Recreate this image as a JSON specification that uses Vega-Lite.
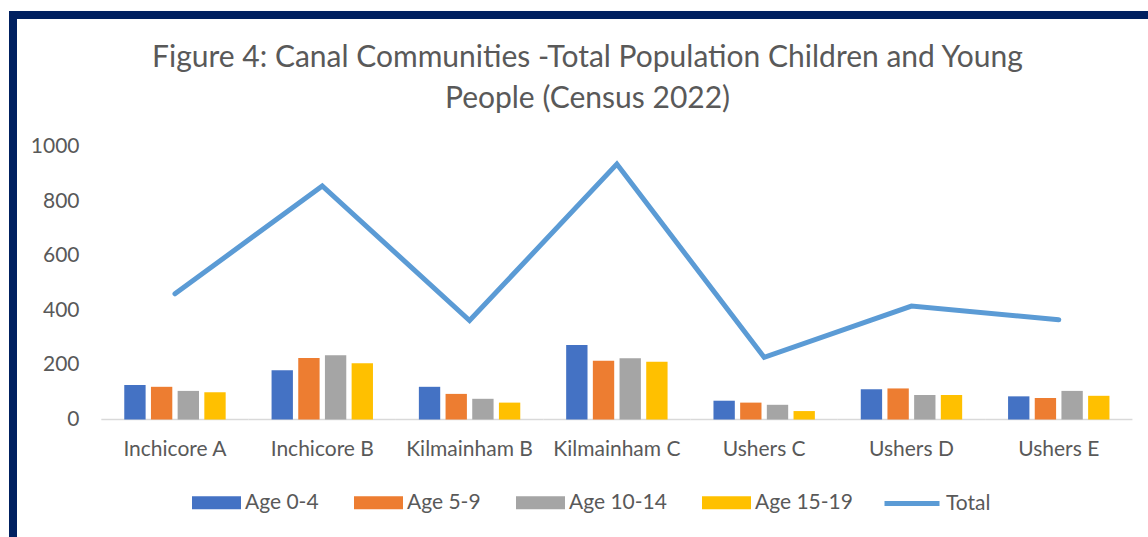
{
  "$schema": "https://vega.github.io/schema/vega-lite/v6.json",
  "width": 1135,
  "height": 522,
  "autosize": {"type": "none"},
  "padding": {"left": 13, "top": 15, "right": 0, "bottom": 0},
  "background": "white",
  "title": {
    "text": ["Figure 4: Canal Communities -Total Population Children and Young", "People (Census 2022)"],
    "orient": "top",
    "anchor": "middle",
    "frame": "group",
    "offset": -99,
    "dx": 7,
    "font": "Lato",
    "fontSize": 30,
    "fontWeight": "normal",
    "color": "#595959",
    "lineHeight": 41,
    "baseline": "top"
  },
  "datasets": {
    "bars": [
      {"community": "Inchicore A", "age": "Age 0-4", "value": 127},
      {"community": "Inchicore A", "age": "Age 5-9", "value": 120},
      {"community": "Inchicore A", "age": "Age 10-14", "value": 105},
      {"community": "Inchicore A", "age": "Age 15-19", "value": 100},
      {"community": "Inchicore B", "age": "Age 0-4", "value": 181},
      {"community": "Inchicore B", "age": "Age 5-9", "value": 226},
      {"community": "Inchicore B", "age": "Age 10-14", "value": 236},
      {"community": "Inchicore B", "age": "Age 15-19", "value": 206},
      {"community": "Kilmainham B", "age": "Age 0-4", "value": 120},
      {"community": "Kilmainham B", "age": "Age 5-9", "value": 94},
      {"community": "Kilmainham B", "age": "Age 10-14", "value": 76},
      {"community": "Kilmainham B", "age": "Age 15-19", "value": 62},
      {"community": "Kilmainham C", "age": "Age 0-4", "value": 273},
      {"community": "Kilmainham C", "age": "Age 5-9", "value": 216},
      {"community": "Kilmainham C", "age": "Age 10-14", "value": 225},
      {"community": "Kilmainham C", "age": "Age 15-19", "value": 212},
      {"community": "Ushers C", "age": "Age 0-4", "value": 69},
      {"community": "Ushers C", "age": "Age 5-9", "value": 62},
      {"community": "Ushers C", "age": "Age 10-14", "value": 54},
      {"community": "Ushers C", "age": "Age 15-19", "value": 31},
      {"community": "Ushers D", "age": "Age 0-4", "value": 111},
      {"community": "Ushers D", "age": "Age 5-9", "value": 114},
      {"community": "Ushers D", "age": "Age 10-14", "value": 90},
      {"community": "Ushers D", "age": "Age 15-19", "value": 90},
      {"community": "Ushers E", "age": "Age 0-4", "value": 85},
      {"community": "Ushers E", "age": "Age 5-9", "value": 79},
      {"community": "Ushers E", "age": "Age 10-14", "value": 105},
      {"community": "Ushers E", "age": "Age 15-19", "value": 87}
    ],
    "totals": [
      {"community": "Inchicore A", "total": 461},
      {"community": "Inchicore B", "total": 857},
      {"community": "Kilmainham B", "total": 363},
      {"community": "Kilmainham C", "total": 937},
      {"community": "Ushers C", "total": 228},
      {"community": "Ushers D", "total": 416},
      {"community": "Ushers E", "total": 366}
    ]
  },
  "config": {
    "view": {
      "stroke": "#002060",
      "strokeWidth": 8,
      "strokeDash": [1135, 1657, 522],
      "strokeCap": "square",
      "fill": "white"
    },
    "axis": {
      "labelColor": "#595959",
      "labelFont": "Lato",
      "labelFontSize": 21,
      "grid": false,
      "domain": false,
      "ticks": false,
      "title": null
    }
  },
  "encoding": {
    "x": {
      "field": "community",
      "type": "nominal",
      "sort": ["Inchicore A", "Inchicore B", "Kilmainham B", "Kilmainham C", "Ushers C", "Ushers D", "Ushers E"],
      "scale": {"type": "band", "paddingInner": 0, "paddingOuter": 0.3527, "align": 0.85},
      "axis": {"orient": "bottom", "offset": -117.5, "labelPadding": 19, "labelAngle": 0, "labelOverlap": false, "labelBaseline": "top"}
    }
  },
  "layer": [
    {
      "data": {"name": "totals"},
      "mark": {"type": "rect", "stroke": "#D9D9D9", "strokeWidth": 1.3, "fill": "#D9D9D9"},
      "encoding": {
        "y": {"datum": 0, "type": "quantitative", "scale": {"domain": [-431, 1484], "nice": false, "zero": false}, "axis": {"values": [0, 200, 400, 600, 800, 1000], "format": "d", "offset": -68, "labelPadding": 2}},
        "y2": {"datum": 0}
      }
    },
    {
      "data": {"name": "bars"},
      "mark": {"type": "bar"},
      "encoding": {
        "xOffset": {
          "field": "age",
          "type": "nominal",
          "sort": ["Age 0-4", "Age 5-9", "Age 10-14", "Age 15-19"],
          "scale": {"paddingInner": 0.2, "paddingOuter": 0.86}
        },
        "y": {"field": "value", "type": "quantitative"},
        "color": {
          "field": "age",
          "type": "nominal",
          "sort": ["Age 0-4", "Age 5-9", "Age 10-14", "Age 15-19"],
          "scale": {"domain": ["Age 0-4", "Age 5-9", "Age 10-14", "Age 15-19"], "range": ["#4472C4", "#ED7D31", "#A5A5A5", "#FFC000"]},
          "legend": {
            "orient": "none",
            "legendX": 179,
            "legendY": 463,
            "direction": "horizontal",
            "title": null,
            "symbolType": "M-1,-0.265H1V0.265H-1Z",
            "symbolSize": 2401,
            "symbolStrokeWidth": 0,
            "labelFont": "Lato",
            "labelFontSize": 21,
            "labelColor": "#595959",
            "labelOffset": 4,
            "columnPadding": 35,
            "padding": 0
          }
        }
      }
    },
    {
      "data": {"name": "totals"},
      "mark": {"type": "line", "strokeWidth": 5, "strokeCap": "round", "strokeJoin": "miter"},
      "encoding": {
        "y": {"field": "total", "type": "quantitative"},
        "stroke": {
          "datum": "Total",
          "type": "nominal",
          "scale": {"range": ["#5B9BD5"]},
          "legend": {
            "orient": "none",
            "legendX": 869,
            "legendY": 458.5,
            "title": null,
            "symbolType": "stroke",
            "symbolSize": 3025,
            "symbolStrokeWidth": 5,
            "labelFont": "Lato",
            "labelFontSize": 21,
            "labelColor": "#595959",
            "labelOffset": 4,
            "padding": 0
          }
        }
      }
    }
  ]
}
